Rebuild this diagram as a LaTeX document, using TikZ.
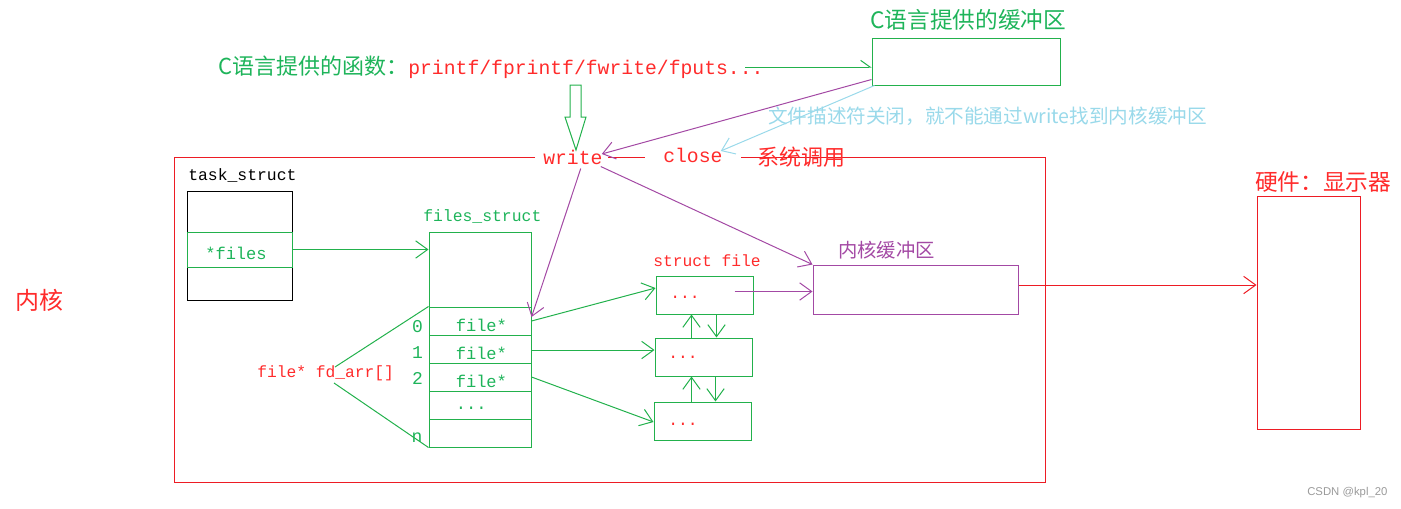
\documentclass[tikz,border=0pt]{standalone}
\usepackage{fontspec}
\setmainfont{Liberation Mono}
\newfontfamily\cjk{Noto Sans CJK SC}
\newfontfamily\mono{Liberation Mono}
\newfontfamily\sans{Liberation Sans}
\usetikzlibrary{fit,calc,arrows.meta}
\definecolor{pred}{HTML}{ED1C24}
\definecolor{tred}{HTML}{FF2B2B}
\definecolor{pgreen}{HTML}{22B14C}
\definecolor{tgreen}{HTML}{1EB45A}
\definecolor{ppurple}{HTML}{A349A4}
\definecolor{pblue}{HTML}{99D9EA}
\definecolor{pgray}{HTML}{9A9A9A}
\tikzset{
  box/.style={inner sep=0pt, draw, line width=0.75pt},
  lbl/.style={inner sep=0pt, anchor=west},
  ctr/.style={inner sep=0pt, anchor=center},
  gmono/.style={inner sep=0pt, anchor=west, text=tgreen, font=\mono\fontsize{12.8}{14}\selectfont},
  arr/.style={line width=0.75pt, -{Straight Barb[length=9pt,width=13pt]}},
  halfarr/.style={line width=0.75pt, -{Straight Barb[harpoon,length=7pt,width=10pt]}},
  ln/.style={line width=0.75pt},
}
\begin{document}
\begin{tikzpicture}[x=0.75pt,y=-0.75pt]
\useasboundingbox (0,0) rectangle (1401,508);

% kernel frame
\draw[ln, pred] (535,157) -- (174,157) -- (174,482) -- (1045,482) -- (1045,157) -- (741,157);
\draw[ln, pred] (608,157) -- (645,157);
\node[lbl, text=tred, font=\cjk\fontsize{18}{20}\selectfont] (kernel) at (15,300) {内核};

% top texts
\node[lbl, font=\fontsize{14.8}{16}\selectfont] (funcs) at (218,67)
  {{\cjk\fontsize{16.5}{18}\selectfont\color{tgreen}C语言提供的函数：}{\color{tred}printf/fprintf/fwrite/fputs...}};
\coordinate (fpend) at (745,67);
\node[box, draw=pgreen, fit={(872,38) (1060,85)}] (cbuf) {};
\node[lbl, text=tgreen, font=\cjk\fontsize{17}{19}\selectfont] (cbuflbl) at (870,20) {C语言提供的缓冲区};
\node[lbl, text=pblue, font=\cjk\fontsize{14.7}{16}\selectfont] (note) at (768,116) {文件描述符关闭，就不能通过write找到内核缓冲区};

\node[lbl, text=tred, font=\mono\fontsize{14.8}{16}\selectfont] (write) at (543,157) {write};
\node[lbl, text=tred, font=\mono\fontsize{14.8}{16}\selectfont] (close) at (663,155) {close};
\node[lbl, text=tred, font=\cjk\fontsize{16.5}{18}\selectfont] (syscall) at (757,157) {系统调用};

% green hollow block arrow
\draw[ln, pgreen] (570,85) -- (581,85) -- (581,117) -- (586,117) -- (576,150) -- (565,117) -- (570,117) -- cycle;

% task_struct
\node[lbl, text=black, font=\mono\fontsize{12.3}{14}\selectfont] (tslbl) at (188,175) {task\_struct};
\node[box, draw=black, fit={(187,191) (292,300)}] (ts) {};
\node[box, draw=pgreen, fit={(187,232) (292,267)}] (tsfiles) {};
\node[ctr, text=tgreen, font=\mono\fontsize{12.8}{14}\selectfont] (tsfilestxt) at (236,253) {*files};

% files_struct
\node[lbl, text=tgreen, font=\mono\fontsize{12.3}{14}\selectfont] (fslbl) at (423,216) {files\_struct};
\node[box, draw=pgreen, fit={(429,232) (531,307)}] (fstop) {};
\node[box, draw=pgreen, fit={(429,307) (531,335)}] (row0) {};
\node[box, draw=pgreen, fit={(429,335) (531,363)}] (row1) {};
\node[box, draw=pgreen, fit={(429,363) (531,391)}] (row2) {};
\node[box, draw=pgreen, fit={(429,391) (531,419)}] (rowd) {};
\node[box, draw=pgreen, fit={(429,419) (531,447)}] (rown) {};
\node[gmono] (r0t) at ($(row0.west)+(27,4)$) {file*};
\node[gmono] (r1t) at ($(row1.west)+(27,4)$) {file*};
\node[gmono] (r2t) at ($(row2.west)+(27,4)$) {file*};
\node[gmono, anchor=base west] (rdt) at ($(rowd.west)+(27,4)$) {...};
\node[ctr, text=tgreen, font=\mono\fontsize{13.5}{15}\selectfont] (i0) at (417.5,327) {0};
\node[ctr, text=tgreen, font=\mono\fontsize{13.5}{15}\selectfont] (i1) at (417.5,353) {1};
\node[ctr, text=tgreen, font=\mono\fontsize{13.5}{15}\selectfont] (i2) at (417.5,378) {2};
\node[ctr, text=tgreen, font=\mono\fontsize{13.5}{15}\selectfont] (in) at (417,438) {n};

\node[lbl, text=tred, font=\mono\fontsize{12.2}{14}\selectfont] (fdarr) at (257,373) {file* fd\_arr[]};
\coordinate (fa1) at (335,367);
\coordinate (fa2) at (334,383);
\draw[ln, pgreen] (fa1) -- (row0.north west);
\draw[ln, pgreen] (fa2) -- (rown.south west);

% struct file
\node[lbl, text=tred, font=\mono\fontsize{12.2}{14}\selectfont] (sflbl) at (653,261) {struct file};
\node[box, draw=pgreen, fit={(656,276) (753,314)}] (sfA) {};
\node[box, draw=pgreen, fit={(655,338) (752,376)}] (sfB) {};
\node[box, draw=pgreen, fit={(654,402) (751,440)}] (sfC) {};
\node[ctr, text=tred, font=\mono\fontsize{12.2}{14}\selectfont] (dA) at (685,297) {...};
\node[ctr, text=tred, font=\mono\fontsize{12.2}{14}\selectfont] (dB) at (683,357) {...};
\node[ctr, text=tred, font=\mono\fontsize{12.2}{14}\selectfont] (dC) at (683,424) {...};

% kernel buffer and hardware
\node[box, draw=ppurple, fit={(813,265) (1018,314)}] (kbuf) {};
\node[lbl, text=ppurple, font=\cjk\fontsize{14.5}{16}\selectfont] (kbuflbl) at (838,250) {内核缓冲区};
\node[box, draw=pred, fit={(1257,196) (1360,429)}] (hw) {};
\node[lbl, text=tred, font=\cjk\fontsize{17}{19}\selectfont] (hwlbl) at (1255,182) {硬件：显示器};

% connectors
\draw[arr, pgreen] (tsfiles.east) -- (tsfiles.east -| fstop.west);
\draw[halfarr, pgreen] (fpend) -- (fpend -| cbuf.west);
\draw[arr, pgreen] (row0.east) -- ($(sfA.west)+(0,-7)$);
\draw[arr, pgreen] ($(row1.east)+(0,1)$) -- ($(row1.east -| sfB.west)+(0,1)$);
\draw[arr, pgreen] (row2.east) -- ($(sfC.west)+(0,1)$);
\draw[arr, pgreen] ($(sfB.north west)+(37,0)$) -- ($(sfA.south west)+(36,0)$);
\draw[arr, pgreen] ($(sfA.south west)+(61,0)$) -- ($(sfB.north west)+(62,0)$);
\draw[arr, pgreen] ($(sfC.north west)+(38,0)$) -- ($(sfB.south west)+(37,0)$);
\draw[arr, pgreen] ($(sfB.south west)+(61,0)$) -- ($(sfC.north west)+(62,0)$);

\draw[arr, ppurple] ($(kbuf.west)+(-78,2)$) -- ($(kbuf.west)+(0,2)$);
\draw[arr, ppurple] ($(cbuf.south west)+(0,-6)$) -- ($(write.east)+(-1,-3)$);
\draw[arr, ppurple] ($(write.south east)+(-22,4)$) -- ($(row0.east)+(0,-4)$);
\draw[arr, ppurple] ($(write.south east)+(-2,2)$) -- (kbuf.north west);
\draw[arr, pblue] ($(cbuf.south west)+(3,0)$) -- ($(close.east)+(-2,-4)$);
\draw[arr, pred] ($(kbuf.east)+(0,-4.5)$) -- ($(kbuf.east -| hw.west)+(0,-4.5)$);

\node[lbl, text=pgray, font=\sans\fontsize{8.5}{10}\selectfont] (csdn) at (1307,493) {CSDN @kpl\_20};
\end{tikzpicture}
\end{document}
